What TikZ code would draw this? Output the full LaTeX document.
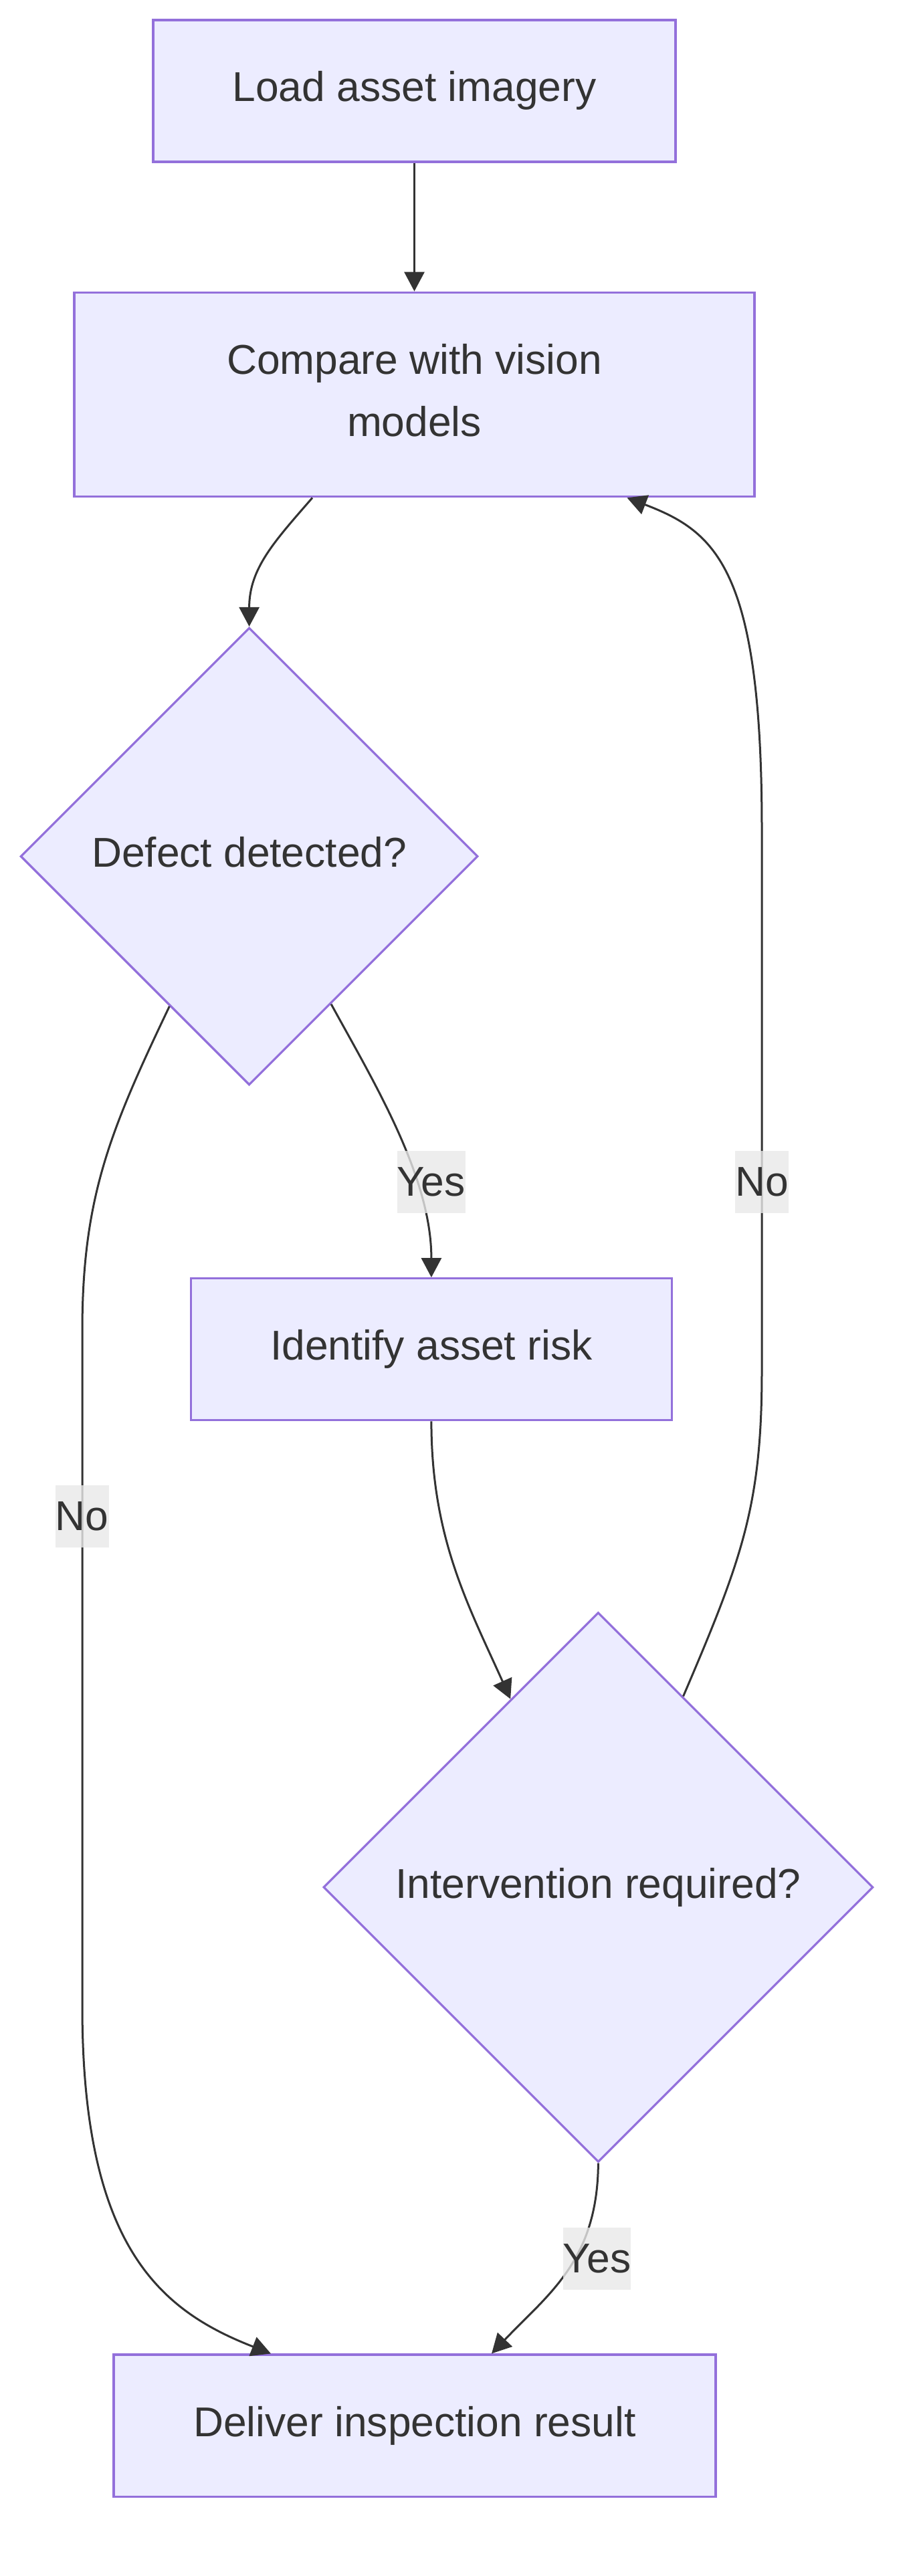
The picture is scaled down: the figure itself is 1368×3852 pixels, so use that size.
\documentclass[tikz,border=0pt]{standalone}
\usepackage{fontspec}
\setmainfont{Liberation Sans}
\usetikzlibrary{shapes.geometric,arrows.meta}
\definecolor{nodefill}{HTML}{ECECFF}
\definecolor{nodeline}{HTML}{9370DB}
\definecolor{ink}{HTML}{333333}
\definecolor{lblbg}{HTML}{E8E8E8}
\newcommand\mainfs{\fontsize{31.15pt}{46.5pt}\selectfont}
\begin{document}
\begin{tikzpicture}[x=0.5pt,y=-0.5pt,
  box/.style={draw=nodeline, fill=nodefill, line width=1.6pt, inner sep=0pt, text=ink, font=\mainfs, align=center, text depth=6.6pt},
  dia/.style={diamond, aspect=1, draw=nodeline, fill=nodefill, line width=1.6pt, inner sep=0pt, text=ink, font=\mainfs, text depth=6.6pt},
  link/.style={draw=ink, line width=1.5pt, -{Triangle[length=14.5pt,width=15pt]}},
  lbl/.style={fill=lblbg, fill opacity=0.8, text opacity=1, text=ink, inner xsep=0pt, inner ysep=0pt, minimum height=46.5pt, font=\mainfs}]
\useasboundingbox (0,0) rectangle (1368,3852);

\node[box, minimum width=390.5pt, minimum height=106pt] (load) at (619.5,136) {Load asset imagery};
\node[box, minimum width=508.5pt, minimum height=152.75pt] (compare) at (619.5,590) {Compare with vision\\models};
\node[dia, minimum width=342pt, minimum height=342pt] (defect) at (372.6,1280.5) {Defect detected?};
\node[box, minimum width=359.5pt, minimum height=106pt] (risk) at (644.9,2017.7) {Identify asset risk};
\node[dia, minimum width=411pt, minimum height=411pt] (interv) at (894.4,2822) {Intervention required?};
\node[box, minimum width=450pt, minimum height=106.3pt] (deliver) at (620,3627.3) {Deliver inspection result};

\draw[link] (load.south) -- (compare.north);
\draw[link] ([xshift=-76.25pt]compare.south) .. controls (410,810) and (372.6,850) .. (defect.north);
\draw[link] (defect.-61) .. controls (560,1620) and (645,1760) .. (risk.north);
\draw[link] (defect.242) .. controls (165,1690) and (123,1790) .. (123,1990) -- (123,3000) .. controls (123,3360) and (240,3455) .. ([xshift=-107.5pt]deliver.north);
\draw[link] (risk.south) .. controls (645,2300) and (700,2400) .. (interv.115);
\draw[link] (interv.66) .. controls (1110,2330) and (1139,2250) .. (1139,2050) -- (1139,1240) .. controls (1139,850) and (1070,795) .. ([xshift=159pt]compare.south);
\draw[link] (interv.south) .. controls (893.5,3380) and (820,3430) .. ([xshift=57.5pt]deliver.north);

\node[lbl] (yes1) at (644.8,1767.4) {Yes};
\node[lbl] (no1) at (1139,1767.4) {No};
\node[lbl] (no2) at (122.7,2267.5) {No};
\node[lbl] (yes2) at (892.5,3377) {Yes};
\end{tikzpicture}
\end{document}
